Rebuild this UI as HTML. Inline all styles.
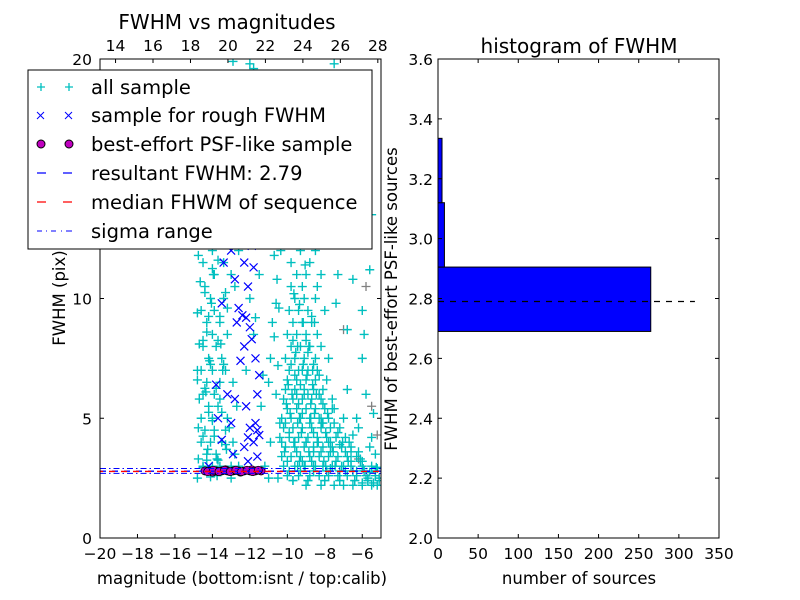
<!DOCTYPE html>
<html><head><meta charset="utf-8"><style>
body{margin:0;background:#fff}
svg{display:block;font-family:"DejaVu Sans","Liberation Sans",sans-serif}
</style></head><body>
<svg id="fig" width="800" height="600" viewBox="0 0 800 600" xmlns="http://www.w3.org/2000/svg">
<rect width="800" height="600" fill="#fff"/>
<g id="left"></g>
<g id="right"></g>
</svg>
<script>
const cyanX=[-9,-8.2,-7.5,-7,-6.5,-6,-5.5,-5.2,
-10,-9.4,-8.8,-8.3,-7.8,-7.3,-6.8,-6.3,-5.8,-5.3,
-10.2,-9.6,-9.1,-8.6,-8.1,-7.6,-7.1,-6.6,-6.0,-5.5,
-10.3,-9.8,-9.3,-8.8,-8.3,-7.8,-7.3,-6.8,-6.3,
-10.1,-9.6,-9.1,-8.6,-8.1,-7.6,-7.1,-6.6,
-10.4,-9.9,-9.4,-8.9,-8.4,-7.9,-7.4,-6.9,
-10.2,-9.7,-9.2,-8.7,-8.2,-7.7,-7.2,
-10.3,-9.8,-9.3,-8.8,-8.3,-7.8,-7.0,
-10.0,-9.5,-9.0,-8.5,-8.0,-7.5,
-10.2,-9.7,-9.2,-8.7,-8.2,-7.6,
-10.1,-9.6,-9.1,-8.6,-8.1,
-10.0,-9.5,-9.0,-8.5,-7.9,
-9.9,-9.4,-8.9,-8.4,
-10.1,-9.6,-9.1,-8.5,-7.8,
-9.8,-9.3,-8.8,-8.2,
-10.0,-9.5,-9.0,-8.4,
-9.7,-9.2,-8.7,
-9.9,-9.4,-8.9,-8.0,
-9.6,-9.1,-8.5,
-9.8,-9.2,-8.4,
-9.5,-9.0,-8.2,-7.3,
-9.8,-8.8,-9.3,-8.5,
-7,-6.5,-6,-5.6,-6.8,-7.2,-8,-9.5,-10.5,-8.8,-7.5,-6.2,-5.5,-9,-11,-10,-6,-5.8,-6.3,-5.5,-5.3,-6.5,-10.8,-11,-10.9,-11.2,-7.5,-12,-12.9,-11.8,
-14.5,-14,-13.6,-13,-12.6,-14.3,-13.8,-12.8,-14.6,-14.1,-13.5,-12.9,-14.4,-13.9,-13.3,-14.6,-14.0,-13.2,-14.2,-13.7,-12.7,-14.5,-13.9,-14.3,-13.6,-12.9,-14.6,-14.0,-13.3,-14.2,-13.5,-14.5,-13.8,-14.0,-13.2,-14.3,-13.6,-14.6,-13.9,-14.1,-13.4,-14.4,-12.8,-13.9,-13.0,-14.5,-13.4,-14.0,-12.6,-13.5,-12.4,-13.9,-11.2,-12.8,-13.5,-12.2,
-12.2,-11.8,-12.0,-11.5,-11.3,-14.8,-13,-11,-10.5,-9.7,-8.9,-8.0,-7.2,-6.4,-5.7,-9.2,-8.6,-7.7,-6.9];
const cyanY=[2.2,2.2,2.2,2.2,2.2,2.2,2.2,2.2,
2.6,2.6,2.6,2.6,2.6,2.6,2.6,2.6,2.6,2.6,
3.0,3.0,3.0,3.0,3.0,3.0,3.0,3.0,3.0,3.0,
3.4,3.4,3.4,3.4,3.4,3.4,3.4,3.4,3.4,
3.8,3.8,3.8,3.8,3.8,3.8,3.8,3.8,
4.2,4.2,4.2,4.2,4.2,4.2,4.2,4.2,
4.6,4.6,4.6,4.6,4.6,4.6,4.6,
5.0,5.0,5.0,5.0,5.0,5.0,5.0,
5.4,5.4,5.4,5.4,5.4,5.4,
5.8,5.8,5.8,5.8,5.8,5.8,
6.2,6.2,6.2,6.2,6.2,
6.6,6.6,6.6,6.6,6.6,
7.0,7.0,7.0,7.0,
7.5,7.5,7.5,7.5,7.5,
8.0,8.0,8.0,8.0,
8.5,8.5,8.5,8.5,
9.0,9.0,9.0,
9.5,9.5,9.5,9.5,
10,10,10,
10.5,10.5,10.5,
11,11,11,11,
11.5,11.5,12,12,
12.5,10.8,9.5,11.2,8.7,13.5,14,15,13,16.5,17,15.5,13.5,18,16,19,7.5,6,5,4.2,3.5,4.3,9,6.5,4,3,19.8,19.8,19.9,19.6,
3,3,3,3,3,3.5,3.5,3.5,4,4,4,4,4.5,4.5,4.5,5,5,5,5.5,5.5,5.5,6,6,6.5,6.5,6.5,7,7,7,7.5,7.5,8,8,8.5,8.5,9,9,9.5,9.5,10,10,10.5,10.5,11,11,11.5,11.5,12,12,13,14,15,15,16,17,18,
7,8.5,10,11,6.8,2.5,2.5,2.5,2.5,2.4,2.4,2.4,2.4,2.4,2.4,3.2,3.6,2.9,2.8];
const denseX=[-9.7,-8.9,-8.0,-7.2,-6.4,-5.7,-5.1,-9.9,-9.3,-8.6,-7.9,-7.2,-6.5,-5.9,-5.3,
-10.0,-9.35,-8.7,-8.05,-7.4,-6.75,-6.1,-10.15,-9.5,-8.85,-8.2,-7.55,-6.9,-6.2,
-10.3,-9.65,-9.0,-8.35,-7.7,-7.05,-9.9,-9.25,-8.6,-7.95,-7.3,-10.1,-9.45,-8.8,-8.15,-7.5,
-9.85,-9.2,-8.55,-7.85,-10.05,-9.4,-8.75,-8.1,-9.75,-9.1,-8.45,-9.95,-9.3,-8.65,-9.6,-8.95,-8.3,
-9.8,-9.15,-8.6,-9.55,-8.9,-9.7,-9.0,-8.7,-9.35,
-14.3,-13.7,-14.5,-13.9,-14.2,-13.5,-14.4,-13.8,-14.1,-13.4,-14.5,-13.7,-14.2,-13.6,-14.4,-13.3,-14.0,-13.8,
-11.4,-10.9,-10.6,-11.7,-10.7,-11.1,-6.0,-5.6,-5.2,-6.6,-6.2,-5.4,-7.4,-5.9,-6.8];
const denseY=[2.4,2.4,2.4,2.4,2.4,2.4,2.4,2.8,2.8,2.8,2.8,2.8,2.8,2.8,2.8,
3.2,3.2,3.2,3.2,3.2,3.2,3.2,3.6,3.6,3.6,3.6,3.6,3.6,3.6,
4.0,4.0,4.0,4.0,4.0,4.0,4.4,4.4,4.4,4.4,4.4,4.8,4.8,4.8,4.8,4.8,
5.2,5.2,5.2,5.2,5.6,5.6,5.6,5.6,6.0,6.0,6.0,6.4,6.4,6.4,6.8,6.8,6.8,
7.25,7.25,7.25,7.75,7.75,8.25,8.25,9.25,9.75,
3.25,3.25,4.25,4.25,5.25,5.25,6.25,6.25,7.25,7.25,8.25,8.25,9.25,9.25,10.25,10.25,11.25,12.5,
5.5,7.5,9.8,9.2,11.8,12.8,3.2,3.8,2.9,3.6,4.6,5.2,9.8,8.5,6.2];
const extraX=[-14.75,-14.25,-13.75,-13.25,-14.75,-14.0,-13.1,-14.7,-14.35,-13.6,-14.8,-14.15,-13.45,-14.7,-14.3,-13.55,-14.8,-14.05,-13.2,-14.65,-13.95,-14.75,-14.1,-13.7,-14.6,-13.85,-14.8,-13.3,-14.5,-13.75,-14.1,
-10.4,-10.6,-10.5,-10.7,-10.45,-10.55,-10.35,
-9.45,-9.05,-8.5,-7.95,-7.45,-9.6,-9.0,-8.4,-7.8,-9.35,-8.75,-8.2,-9.5,-8.9,-8.3,-9.2,-8.65,-9.45,-8.85,-9.15,-8.55,-9.65,-9.05,
-6.0,-5.7,-5.4,-5.1,-6.3,-5.95,-5.6,-5.25,-7.0,-6.6,-6.1,-7.7,-7.2,-6.7,-8.1,-7.6];
const extraY=[3.3,3.7,3.3,3.7,4.6,4.9,4.6,5.8,6.1,5.8,7.0,7.4,7.0,8.1,8.6,8.1,9.4,9.8,9.6,10.7,11.0,11.8,12.3,11.6,13.3,14.2,6.6,3.9,2.95,2.6,2.55,
4.8,6.0,7.2,8.4,9.6,10.8,12.0,
3.0,3.0,3.0,3.0,3.0,4.0,4.0,4.0,4.0,5.0,5.0,5.0,6.0,6.0,6.0,7.0,7.0,8.0,8.0,9.0,9.0,10.2,11.4,
2.3,2.5,2.3,2.5,2.8,2.9,2.75,2.95,3.0,3.2,3.3,3.6,3.9,4.0,4.8,5.4];
const grayX=[-5.2,-5.5,-6.2,-7.0,-5.8];
const grayY=[4.3,5.5,3.3,8.7,10.5];
const roughX=[-13.4,-12.3,-11.8,-12.8,-12.1,-13.5,-12.6,-12.2,-12.0,-11.9,-12.3,-11.7,-12.5,-11.5,-13.8,-13.2,-12.8,-11.6,-12.2,-13.7,-13.0,-12.0,-11.5,-11.8,-12.3,-13.5,-12.9,-11.6,-14.2,-12.1,-13.0,-11.9,-12.7,-11.7,-12.1,-11.6,-12.4];
const roughY=[11.5,11.5,11.3,10.8,10.5,9.8,9.6,9.2,8.8,8.3,8.0,7.5,7.4,6.8,6.4,6.0,5.8,6.0,5.5,5.0,4.8,4.6,4.3,4.0,3.8,4.1,3.5,3.4,3.0,3.2,12.0,12.2,9.0,4.8,4.2,4.5,9.3];
const bestX=[-14.4,-14.1,-13.8,-13.5,-13.2,-12.9,-12.6,-12.3,-12.0,-11.7,-11.4,-14.0,-13.3,-12.5,-11.9,-13.7,-12.8,-14.25,-13.95,-13.65,-13.35,-13.05,-12.75,-12.45,-12.15,-11.85,-11.55];
const bestY=[2.8,2.8,2.8,2.8,2.8,2.8,2.8,2.8,2.8,2.8,2.8,2.75,2.85,2.75,2.85,2.78,2.82,2.77,2.83,2.77,2.83,2.77,2.83,2.77,2.83,2.77,2.83];
const resultFWHM=[2.79];
const medianFWHM=[2.78];
const sigmaRange=[2.7,2.9];
const binEdges=[2.69,2.905,3.12,3.335];
const binCounts=[265,8,5];
const xTicksBottom=[-20,-18,-16,-14,-12,-10,-8,-6];
const xTicksTop=[14,16,18,20,22,24,26,28];
const yTicksLeft=[0,5,10,20];
const histYTicks=[2.0,2.2,2.4,2.6,2.8,3.0,3.2,3.4,3.6];
const histXTicks=[0,50,100,150,200,250,300,350];

const NS="http://www.w3.org/2000/svg";
function mk(parent,tag,attrs,text){const e=document.createElementNS(NS,tag);for(const k in attrs)e.setAttribute(k,attrs[k]);if(text!==undefined)e.textContent=text;parent.appendChild(e);return e;}
const L=document.getElementById('left'),R=document.getElementById('right');
const lx0=100,lx1=381,ly0=538,ly1=59;
const sx=v=>lx0+(v+20)/15*(lx1-lx0);
const sy=v=>ly0-v/20*(ly0-ly1);
const stx=v=>sx(v-33.17);
const clip=mk(L,'clipPath',{id:'lc'});mk(clip,'rect',{x:lx0,y:ly1,width:lx1-lx0,height:ly0-ly1});
const pts=mk(L,'g',{'clip-path':'url(#lc)'});
const M=4.5;
for(let i=0;i<grayX.length;i++){const x=sx(grayX[i]),y=sy(grayY[i]);const p=mk(pts,'path',{d:`M${x-M} ${y}h${2*M}M${x} ${y-M}v${2*M}`,stroke:'#808080','stroke-width':1.3,fill:'none'});

}
for(let i=0;i<cyanX.length;i++){const x=sx(cyanX[i]),y=sy(cyanY[i]);const p=mk(pts,'path',{d:`M${x-M} ${y}h${2*M}M${x} ${y-M}v${2*M}`,stroke:'#00bfbf','stroke-width':1.4,fill:'none'});

}
for(let i=0;i<denseX.length;i++){const x=sx(denseX[i]),y=sy(denseY[i]);const p=mk(pts,'path',{d:`M${x-M} ${y}h${2*M}M${x} ${y-M}v${2*M}`,stroke:'#00bfbf','stroke-width':1.4,fill:'none'});

}
for(let i=0;i<extraX.length;i++){const x=sx(extraX[i]),y=sy(extraY[i]);const p=mk(pts,'path',{d:`M${x-M} ${y}h${2*M}M${x} ${y-M}v${2*M}`,stroke:'#00bfbf','stroke-width':1.4,fill:'none'});

}
for(let i=0;i<roughX.length;i++){const x=sx(roughX[i]),y=sy(roughY[i]);const p=mk(pts,'path',{d:`M${x-4} ${y-4}l8 8M${x-4} ${y+4}l8 -8`,stroke:'#0000ff','stroke-width':1.2,fill:'none'});

}
for(let i=0;i<bestX.length;i++){const c=mk(pts,'circle',{cx:sx(bestX[i]),cy:sy(bestY[i]),r:4,fill:'#bf00bf',stroke:'#000','stroke-width':0.8});

}
sigmaRange.forEach(v=>{const l=mk(pts,'line',{x1:lx0,x2:lx1,y1:sy(v),y2:sy(v),stroke:'#0000ff','stroke-dasharray':'6 3 1.5 3','stroke-width':1});

});
resultFWHM.forEach(v=>{const l=mk(pts,'line',{x1:lx0,x2:lx1,y1:sy(v),y2:sy(v),stroke:'#0000ff','stroke-dasharray':'6 6','stroke-width':1.3});

});
medianFWHM.forEach(v=>{const l=mk(pts,'line',{x1:lx0,x2:lx1,y1:sy(v),y2:sy(v),stroke:'#ff0000','stroke-dasharray':'6 6','stroke-dashoffset':3,'stroke-width':1.3});

});
mk(L,'rect',{x:lx0,y:ly1,width:lx1-lx0,height:ly0-ly1,fill:'none',stroke:'#000','stroke-width':1});
xTicksBottom.forEach(v=>{const x=sx(v);mk(L,'line',{x1:x,x2:x,y1:ly0,y2:ly0-4,stroke:'#000'});
const t=mk(L,'text',{x:x,y:ly0+21,'font-size':15.5,'text-anchor':'middle'},(v<0?'\u2212':'')+Math.abs(v));

});
xTicksTop.forEach(v=>{const x=stx(v);mk(L,'line',{x1:x,x2:x,y1:ly1,y2:ly1+4,stroke:'#000'});
const t=mk(L,'text',{x:x,y:ly1-8,'font-size':15.5,'text-anchor':'middle'},String(v));

});
yTicksLeft.forEach(v=>{const y=sy(v);mk(L,'line',{x1:lx0,x2:lx0+4,y1:y,y2:y,stroke:'#000'});mk(L,'line',{x1:lx1,x2:lx1-4,y1:y,y2:y,stroke:'#000'});
const t=mk(L,'text',{x:lx0-8,y:y+6,'font-size':15.5,'text-anchor':'end'},String(v));

});
const rx0=438,rx1=719;
const hx=v=>rx0+v/350*(rx1-rx0);
const hy=v=>ly0-(v-2)/1.6*(ly0-ly1);
for(let i=0;i<binCounts.length;i++){const r=mk(R,'rect',{x:hx(0),y:hy(binEdges[i+1]),width:hx(binCounts[i])-hx(0),height:hy(binEdges[i])-hy(binEdges[i+1]),fill:'#0000ff',stroke:'#000','stroke-width':1});

}
resultFWHM.forEach(v=>{const l=mk(R,'line',{x1:hx(0),x2:hx(320),y1:hy(v),y2:hy(v),stroke:'#000','stroke-dasharray':'6 6','stroke-width':1.2});

});
mk(R,'rect',{x:rx0,y:ly1,width:rx1-rx0,height:ly0-ly1,fill:'none',stroke:'#000'});
histXTicks.forEach(v=>{const x=hx(v);mk(R,'line',{x1:x,x2:x,y1:ly0,y2:ly0-4,stroke:'#000'});mk(R,'line',{x1:x,x2:x,y1:ly1,y2:ly1+4,stroke:'#000'});
const t=mk(R,'text',{x:x,y:ly0+21,'font-size':15.5,'text-anchor':'middle'},String(v));

});
histYTicks.forEach(v=>{const y=hy(v);mk(R,'line',{x1:rx0,x2:rx0+4,y1:y,y2:y,stroke:'#000'});mk(R,'line',{x1:rx1,x2:rx1-4,y1:y,y2:y,stroke:'#000'});
const t=mk(R,'text',{x:rx0-5,y:y+6,'font-size':15.5,'text-anchor':'end'},v.toFixed(1));

});
</script>
<svg style="position:absolute;left:0;top:0" width="800" height="600" xmlns="http://www.w3.org/2000/svg" font-family="DejaVu Sans, Liberation Sans, sans-serif">
<text x="227" y="29" font-size="20" text-anchor="middle">FWHM vs magnitudes</text>
<text x="579" y="53" font-size="20" text-anchor="middle">histogram of FWHM</text>
<text x="242" y="584" font-size="16.5" text-anchor="middle">magnitude (bottom:isnt / top:calib)</text>
<text x="579" y="584" font-size="16.5" text-anchor="middle">number of sources</text>
<text transform="translate(65,298) rotate(-90)" font-size="16.5" text-anchor="middle">FWHM (pix)</text>
<text transform="translate(397,299) rotate(-90)" font-size="16.5" text-anchor="middle">FWHM of best-effort PSF-like sources</text>
<g font-size="19.5">
<rect x="28" y="70" width="344" height="179" fill="#fff" stroke="#000"/>
<path d="M37 87h8M41 83v8M65 87h8M69 83v8" stroke="#00bfbf" stroke-width="1.3" fill="none"/>
<text x="91" y="94">all sample</text>
<path d="M37 112l7 7M37 119l7-7M65 112l7 7M65 119l7-7" stroke="#00f" fill="none"/>
<text x="91" y="122">sample for rough FWHM</text>
<circle cx="41" cy="144" r="4" fill="#bf00bf" stroke="#000"/><circle cx="69" cy="144" r="4" fill="#bf00bf" stroke="#000"/>
<text x="91" y="151">best-effort PSF-like sample</text>
<path d="M37 173h9M63 173h9" stroke="#00f" stroke-width="1.3"/>
<text x="91" y="180">resultant FWHM: 2.79</text>
<path d="M37 202h9M63 202h9" stroke="#f00" stroke-width="1.3"/>
<text x="91" y="209">median FHWM of sequence</text>
<path d="M37 231h5M46 231h1M51 231h5M61 231h1M66 231h6" stroke="#00f"/>
<text x="91" y="238">sigma range</text>
</g>
</svg>
</body></html>
